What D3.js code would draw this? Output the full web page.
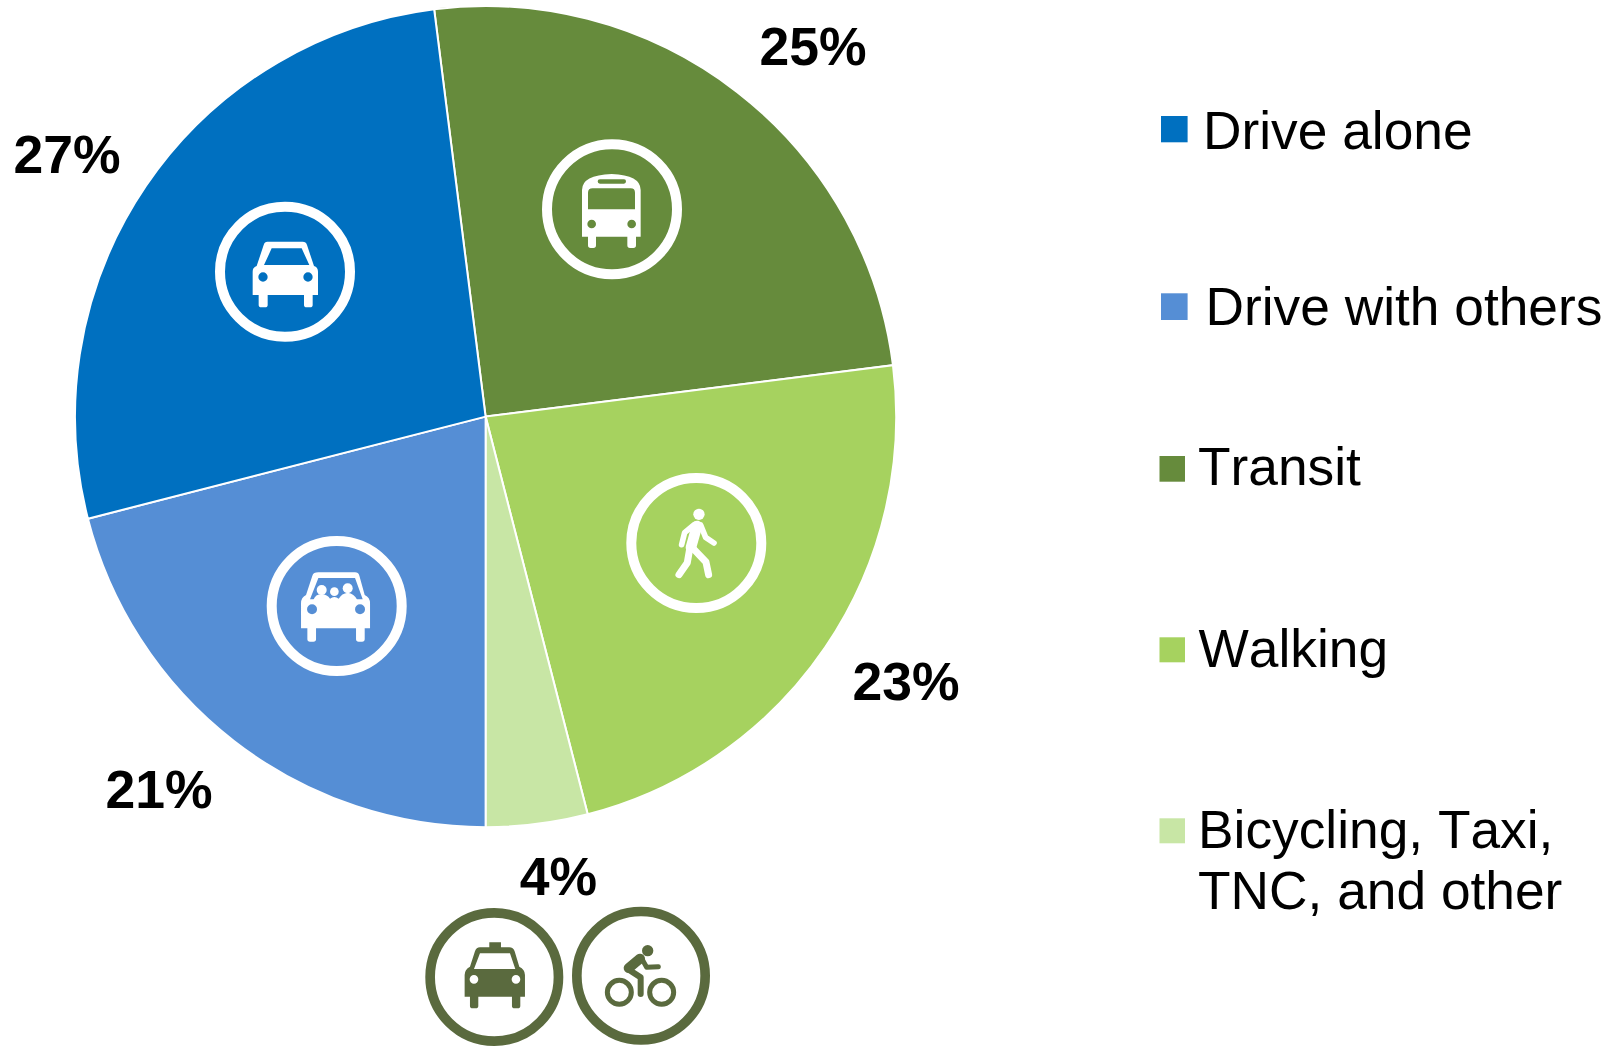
<!DOCTYPE html>
<html><head><meta charset="utf-8">
<script src="https://cdnjs.cloudflare.com/ajax/libs/d3/7.9.0/d3.min.js"></script>
<style>html,body{margin:0;padding:0;background:#fff}svg{display:block}text{font-family:"Liberation Sans",Arial,sans-serif;fill:#000;font-kerning:none}</style>
</head><body><svg id="c" width="1619" height="1047"></svg>
<script>
const categories = ["Transit","Walking","Bicycling, Taxi, TNC, and other","Drive with others","Drive alone"];
const shares = [25,23,4,21,27];
const sliceColors = ["#668B3C","#A6D25F","#C8E6A5","#558ED5","#0070C0"];
const valueLabels = ["25%","23%","4%","21%","27%"];
const legendOrder = [4,3,0,1,2];
const legendLines = [["Drive alone"],["Drive with others"],["Transit"],["Walking"],["Bicycling, Taxi,","TNC, and other"]];

const svg = d3.select("#c");
const cx=485.6, cy=416.6, R=410.6;
const pie = d3.pie().sort(null).startAngle(-7.2*Math.PI/180).endAngle((360-7.2)*Math.PI/180);
const arc = d3.arc().innerRadius(0).outerRadius(R);
const arcs = pie(shares);
svg.append("g").attr("transform",`translate(${cx},${cy})`).selectAll("path").data(arcs).join("path")
  .attr("d",arc).attr("fill",(d,i)=>sliceColors[i]).attr("stroke","#fff").attr("stroke-width",2);

// value labels: [x centre, baseline]
const labelPos=[[813,65],[906,700],[558.5,895],[159,808],[67,173]];
svg.append("g").selectAll("text").data(valueLabels).join("text")
  .attr("x",(d,i)=>labelPos[i][0]).attr("y",(d,i)=>labelPos[i][1]).attr("text-anchor","middle")
  .attr("font-size",53.5).attr("font-weight",700).text(d=>d);

// legend
const legendBox=[[1161,116,26.6,26.3],[1161,293.3,26.6,26.7],[1159.5,456,25.5,25.7],[1159.5,637.3,25.5,25],[1159.5,818.3,25.5,25]];
const legendText=[[1203,149.4],[1205.5,325.4],[1198,485.4],[1198.5,667],[1198,848]];
const lg=svg.append("g");
legendOrder.forEach((k,i)=>{
  const b=legendBox[i];
  lg.append("rect").attr("x",b[0]).attr("y",b[1]).attr("width",b[2]).attr("height",b[3]).attr("fill",sliceColors[k]);
  legendLines[i].forEach((t,j)=>lg.append("text").attr("x",legendText[i][0]).attr("y",legendText[i][1]+j*61.2).attr("font-size",53.3).text(t));
});

// icons, drawn in 3x crop units around each ring centre
const hole=(x,y,r)=>`M${x-r} ${y}a${r} ${r} 0 1 0 ${2*r} 0a${r} ${r} 0 1 0 ${-2*r} 0Z`;
function icon(x,y,ox,oy,color,draw,ro=210,sw=30){
  const g=svg.append("g").attr("transform",`translate(${x},${y}) scale(${1/3}) translate(${-ox},${-oy})`);
  g.append("circle").attr("cx",ox).attr("cy",oy).attr("r",ro-sw/2).attr("fill","none").attr("stroke",color).attr("stroke-width",sw);
  draw(g,color);
}
const fill=(g,c,d)=>g.append("path").attr("d",d).attr("fill",c).attr("fill-rule","evenodd");
const st=(g,c,d,w)=>g.append("path").attr("d",d).attr("fill","none").attr("stroke",c).attr("stroke-width",w).attr("stroke-linecap","round").attr("stroke-linejoin","round");

icon(285,271.7,285,275,"#fff",(g,c)=>fill(g,c,
 "M232 185H338Q348 185 351 195L372 258Q384 262 384 275V345H368V375Q368 382 360 382H350Q342 382 342 375V345H233V375Q233 382 225 382H214Q206 382 206 375V345H188V275Q188 262 200 258L221 195Q224 185 232 185Z"
 +"M245 205H335L358 255H222Z"+hole(219,291,14)+hole(354,291,14)));

icon(612,209.3,276,268,"#fff",(g,c)=>fill(g,c,
 "M186 350V210Q186 165 275 162Q362 165 362 210V350H348V376Q348 384 340 384H330Q322 384 322 376V350H228V376Q228 384 220 384H212Q204 384 204 376V350Z"
 +"M204 218Q204 205 218 205H332Q345 205 345 218V268H204Z"
 +"M240 178H312Q318 178 318 184Q318 191 312 191H240Q233 191 233 184Q233 178 240 178Z"+hole(215,312,13)+hole(335,312,13)));

icon(336.7,606,260,258,"#fff",(g,c)=>{
 fill(g,c,"M205 157H315Q325 157 328 167L344 225Q360 232 360 250V325H344V358Q344 365 336 365H326Q318 365 318 358V325H198V358Q198 365 190 365H180Q172 365 172 358V325H153V250Q153 232 168 225L187 167Q190 157 205 157Z"
 +"M205 174H315L338 238H180Z"+hole(186,268,15)+hole(330,268,15));
 g.append("circle").attr("cx",215).attr("cy",210).attr("r",15).attr("fill",c);
 g.append("circle").attr("cx",253).attr("cy",215).attr("r",13).attr("fill",c);
 g.append("circle").attr("cx",293).attr("cy",205).attr("r",15).attr("fill",c);
 fill(g,c,"M190 240Q196 222 215 222Q232 224 240 236Q253 226 266 236Q275 220 293 218Q312 220 322 240Z");
});

icon(696.3,543,259,249,"#fff",(g,c)=>{
 g.append("circle").attr("cx",267).attr("cy",163).attr("r",17).attr("fill",c);
 st(g,c,"M250 196L224 218L215 254",17);
 st(g,c,"M272 195L287 232L312 249",17);
 st(g,c,"M261 198L243 262",32);
 st(g,c,"M240 262L232 308L207 344",21);
 st(g,c,"M252 268L288 306L296 344",21);
});

const dark="#5A6A3E";
icon(494.3,977,253,261,dark,(g,c)=>fill(g,c,
 "M238 157H273V172H298Q310 172 314 184L328 230Q345 238 345 255V320H331V348Q331 355 323 355H314Q306 355 306 348V320H205V348Q205 355 197 355H188Q180 355 180 348V320H164V255Q164 238 180 230L195 184Q199 172 210 172H238Z"
 +"M210 190H300L316 237H192Z"+hole(192,268,13)+hole(318,268,13)),207,29);

icon(641,975.7,693,257,dark,(g,c)=>{
 g.append("circle").attr("cx",713).attr("cy",182).attr("r",17).attr("fill",c);
 [[628,307],[755,307]].forEach(p=>g.append("circle").attr("cx",p[0]).attr("cy",p[1]).attr("r",36).attr("fill","none").attr("stroke",c).attr("stroke-width",15));
 st(g,c,"M656 234L690 206",30);
 st(g,c,"M695 205L710 232L745 230",15);
 st(g,c,"M655 238L692 262L692 312",18);
},207,29);
</script></body></html>
